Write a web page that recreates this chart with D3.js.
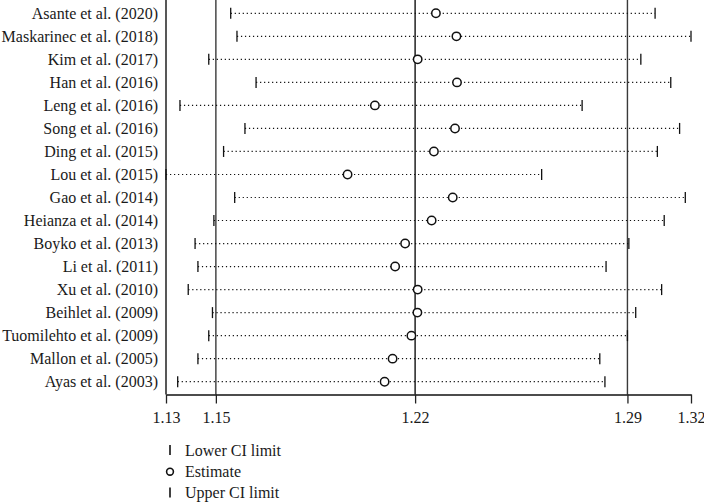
<!DOCTYPE html>
<html>
<head>
<meta charset="utf-8">
<script src="https://cdn.jsdelivr.net/npm/d3@7"></script>
<style>
	body { margin: 0; background: #fff; }
	svg text { font-family: "Liberation Serif", "DejaVu Serif", serif; fill: #1a1a1a; }
</style>
</head>
<body>
<svg id="plot" width="704" height="502"></svg>
<script>

const STUDIES = ['Asante et al. (2020)', 'Maskarinec et al. (2018)', 'Kim et al. (2017)', 'Han et al. (2016)',
	'Leng et al. (2016)', 'Song et al. (2016)', 'Ding et al. (2015)', 'Lou et al. (2015)', 'Gao et al. (2014)',
	'Heianza et al. (2014)', 'Boyko et al. (2013)', 'Li et al. (2011)', 'Xu et al. (2010)', 'Beihlet al. (2009)',
	'Tuomilehto et al. (2009)', 'Mallon et al. (2005)', 'Ayas et al. (2003)'];
const LOWER = [1.1552, 1.1574, 1.1475, 1.1641, 1.1374, 1.1602, 1.1527, 1.1325, 1.1566,
	1.1493, 1.1427, 1.1437, 1.1403, 1.1488, 1.1475, 1.1437, 1.1366];
const ESTIMATE = [1.2272, 1.2344, 1.2208, 1.2346, 1.2058, 1.2339, 1.2265, 1.1962, 1.2331,
	1.2257, 1.2164, 1.2129, 1.2208, 1.2207, 1.2186, 1.2120, 1.2092];
const UPPER = [1.3041, 1.3167, 1.2991, 1.3096, 1.2785, 1.3127, 1.3049, 1.2643, 1.3147,
	1.3073, 1.2949, 1.2869, 1.3064, 1.2973, 1.2944, 1.2847, 1.2865];

// axis ticks (labels are rounded to 2 decimals in the original)
const TICKS = [1.1325, 1.15, 1.2199, 1.2944, 1.3167];
const REF_LINES = [1.15, 1.2199, 1.2944];
const LEGEND = ['Lower CI limit', 'Estimate', 'Upper CI limit'];

const data = STUDIES.map((s, i) => {
	return {'name': s, 'lo': LOWER[i], 'est': ESTIMATE[i], 'hi': UPPER[i]};
});

const svg = d3.select('#plot');
const box = {left: 166, right: 691, top: 0, bottom: 394.5};

const x = d3.scaleLinear()
	.domain([TICKS[0], TICKS[TICKS.length - 1]])
	.range([box.left, box.right]);

const y = d3.scaleBand()
	.domain(STUDIES)
	.range([1.8, 393.2]);

const yc = d => y(d) + y.bandwidth() / 2;

// reference lines
svg.append('g').selectAll('line')
	.data(REF_LINES)
	.enter().append('line')
	.attr('x1', d => x(d)).attr('x2', d => x(d))
	.attr('y1', box.top).attr('y2', box.bottom)
	.style('stroke', (d, i) => i == 1 ? '#111' : '#3a3a3a')
	.style('stroke-width', 1.4);

// left border
svg.append('line')
	.attr('x1', box.left).attr('x2', box.left)
	.attr('y1', box.top).attr('y2', box.bottom)
	.style('stroke', '#111').style('stroke-width', 1.4);

// x axis
const xAxis = svg.append('g')
	.attr('transform', `translate(0,${box.bottom})`)
	.call(d3.axisBottom(x).tickValues(TICKS).tickFormat(d3.format('.2f')).tickSize(9).tickSizeOuter(0).tickPadding(8));
xAxis.select('.domain').style('stroke', '#111').style('stroke-width', 1.4);
xAxis.selectAll('.tick line').style('stroke', '#222').style('stroke-width', 1.3);
xAxis.selectAll('text').style('font-size', '16px').style('font-family', '"Liberation Serif", serif').attr('fill', '#1a1a1a');

// study labels
svg.append('g').selectAll('text')
	.data(data)
	.enter().append('text')
	.attr('x', 158)
	.attr('y', d => yc(d.name))
	.attr('dy', '0.35em')
	.attr('text-anchor', 'end')
	.style('font-size', '16px')
	.text(d => d.name);

const rows = svg.append('g').selectAll('g')
	.data(data)
	.enter().append('g');

// dotted CI lines
rows.append('line')
	.attr('x1', d => x(d.lo)).attr('x2', d => x(d.hi))
	.attr('y1', d => yc(d.name)).attr('y2', d => yc(d.name))
	.style('stroke', '#111')
	.style('stroke-width', 1.2)
	.style('stroke-dasharray', '1.2,2.8');

// lower / upper ticks
['lo', 'hi'].forEach(k => {
	rows.append('line')
		.attr('x1', d => x(d[k])).attr('x2', d => x(d[k]))
		.attr('y1', d => yc(d.name) - 5.5).attr('y2', d => yc(d.name) + 5.5)
		.style('stroke', '#111')
		.style('stroke-width', 1.3);
});

// estimates
rows.append('circle')
	.attr('cx', d => x(d.est))
	.attr('cy', d => yc(d.name))
	.attr('r', 4.2)
	.style('fill', 'white')
	.style('stroke', '#111')
	.style('stroke-width', 1.5);

// legend
const leg = svg.append('g').attr('transform', 'translate(170,450)');
LEGEND.forEach((t, i) => {
	const g = leg.append('g').attr('transform', `translate(0,${i * 21.2})`);
	if (i == 1) {
		g.append('circle').attr('r', 3.4).attr('cy', 0.5)
			.style('fill', 'none').style('stroke', '#111').style('stroke-width', 1.6);
	} else {
		g.append('line').attr('y1', -5).attr('y2', 5)
			.style('stroke', '#111').style('stroke-width', 1.6);
	}
	g.append('text')
		.attr('x', 15)
		.attr('dy', '0.35em')
		.style('font-size', '16px')
		.text(t);
});

</script>
</body>
</html>
